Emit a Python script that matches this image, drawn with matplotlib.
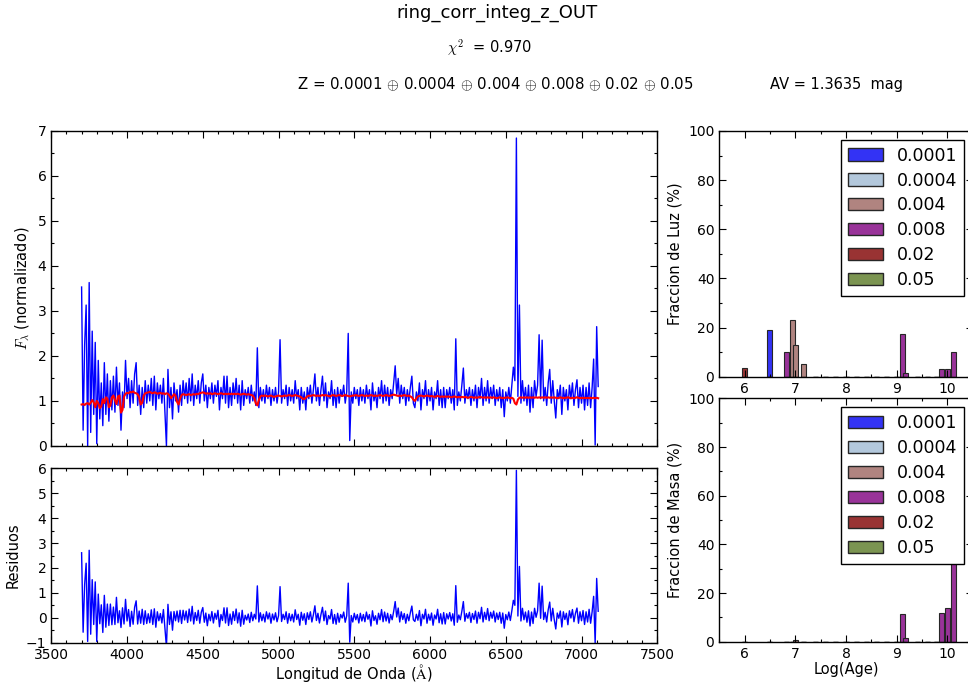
import numpy as np
import matplotlib
matplotlib.use("Agg")
import matplotlib.pyplot as plt
from matplotlib.ticker import MultipleLocator
from matplotlib.patches import Patch

plt.rcParams['font.family'] = ['DejaVu Sans']
plt.rcParams['mathtext.fontset'] = 'cm'

# --- spectrum (10 A sampling, 3700-7110 A) ---
wave = np.arange(3700, 7120, 10)

flux_obs = [
    3.53, 0.35, 2.24, 3.13, 0.00, 3.63, 0.30, 2.55, 0.70, 2.30,
    0.05, 1.90, 0.60, 1.40, 0.45, 1.85, 0.70, 1.60, 0.55, 1.45,
    0.80, 1.55, 0.75, 1.75, 0.90, 1.40, 0.35, 1.20, 0.85, 1.90,
    1.05, 1.50, 0.85, 1.45, 0.95, 1.60, 1.85, 0.90, 1.35, 0.70,
    1.30, 0.85, 1.45, 0.95, 1.35, 1.00, 1.50, 0.90, 1.55, 0.80,
    1.40, 1.05, 1.35, 0.95, 1.50, 0.75, 0.00, 1.70, 0.85, 1.30,
    0.60, 1.40, 1.00, 1.25, 0.75, 1.35, 0.90, 1.45, 1.05, 1.40,
    0.95, 1.50, 1.00, 1.60, 0.90, 1.35, 1.05, 1.45, 0.95, 1.40,
    1.60, 1.00, 1.35, 0.85, 1.30, 1.05, 1.40, 0.95, 1.35, 1.10,
    1.45, 0.80, 1.30, 1.05, 1.55, 0.95, 1.55, 0.85, 1.30, 0.90,
    1.40, 1.05, 1.50, 0.95, 1.35, 0.80, 1.45, 0.90, 1.25, 1.05,
    1.30, 0.95, 1.35, 1.00, 1.20, 0.90, 2.18, 0.85, 1.30, 1.00,
    1.25, 0.95, 1.35, 1.05, 1.30, 0.90, 1.25, 1.00, 1.30, 0.95,
    1.20, 2.36, 0.95, 1.25, 1.05, 1.35, 0.90, 1.30, 1.00, 1.25,
    0.95, 1.45, 1.05, 1.25, 0.80, 1.30, 0.95, 1.20, 0.80, 1.30,
    1.05, 1.35, 0.95, 1.25, 1.60, 1.00, 1.30, 0.90, 1.25, 1.55,
    1.00, 1.40, 0.85, 1.20, 1.05, 1.45, 0.90, 1.25, 0.85, 1.30,
    0.95, 1.25, 1.10, 1.35, 0.95, 1.20, 2.50, 0.12, 1.20, 0.95,
    1.30, 1.05, 1.25, 0.90, 1.30, 1.00, 1.25, 0.95, 1.35, 1.05,
    1.25, 0.80, 1.40, 1.00, 1.20, 0.85, 1.30, 1.05, 1.45, 0.95,
    1.35, 1.00, 1.30, 0.90, 1.25, 1.05, 1.40, 1.78, 1.15, 1.50,
    0.95, 1.35, 1.05, 1.30, 0.90, 1.25, 1.00, 1.30, 1.55, 0.95,
    0.85, 1.20, 1.00, 1.40, 0.80, 1.25, 1.05, 1.45, 0.90, 1.25,
    1.00, 1.30, 0.80, 1.20, 1.05, 1.45, 0.90, 1.25, 0.85, 1.30,
    0.85, 1.25, 1.05, 1.30, 0.95, 1.25, 0.80, 2.38, 0.90, 1.20,
    1.00, 1.35, 1.73, 0.95, 1.25, 1.05, 1.30, 0.90, 1.25, 1.00,
    1.35, 0.85, 1.30, 1.05, 1.50, 0.90, 1.30, 1.00, 1.45, 0.95,
    1.30, 1.05, 1.35, 0.90, 1.25, 1.00, 1.30, 0.85, 1.25, 0.65,
    1.20, 1.00, 1.30, 0.95, 1.35, 1.75, 1.45, 6.84, 1.10, 3.13,
    0.95, 1.45, 1.00, 1.30, 0.90, 1.35, 0.75, 1.30, 0.85, 1.45,
    1.10, 1.35, 2.47, 1.05, 2.35, 1.00, 1.30, 0.90, 1.40, 1.70,
    0.95, 1.45, 1.00, 0.62, 1.25, 1.05, 1.35, 0.70, 1.30, 1.00,
    1.25, 0.80, 1.35, 1.05, 1.40, 0.90, 1.25, 1.47, 0.85, 1.30,
    0.95, 1.35, 0.80, 1.30, 0.90, 1.40, 0.85, 1.30, 1.93, 0.02,
    2.65, 1.32,
]

flux_syn = [
    0.92, 0.93, 0.91, 0.94, 0.95, 0.92, 0.96, 1.02, 0.97, 0.86,
    1.00, 0.95, 0.84, 0.88, 1.04, 0.95, 1.08, 1.05, 0.86, 0.90,
    1.08, 1.12, 1.02, 0.93, 1.10, 1.12, 0.74, 0.80, 1.10, 1.16,
    1.18, 1.17, 1.20, 1.19, 1.21, 1.18, 1.17, 1.15, 1.08, 0.92,
    0.96, 1.12, 1.17, 1.18, 1.19, 1.20, 1.18, 1.17, 1.19, 1.18,
    1.16, 1.17, 1.18, 1.16, 1.17, 1.15, 1.17, 1.16, 1.12, 1.06,
    1.10, 1.15, 1.12, 0.98, 0.92, 1.05, 1.13, 1.15, 1.14, 1.13,
    1.14, 1.15, 1.13, 1.14, 1.15, 1.14, 1.16, 1.15, 1.17, 1.18,
    1.19, 1.18, 1.16, 1.17, 1.16, 1.17, 1.15, 1.16, 1.17, 1.16,
    1.15, 1.16, 1.17, 1.16, 1.15, 1.16, 1.15, 1.16, 1.15, 1.16,
    1.15, 1.16, 1.15, 1.16, 1.15, 1.14, 1.15, 1.16, 1.15, 1.14,
    1.15, 1.14, 1.13, 1.12, 1.06, 0.95, 0.90, 1.02, 1.10, 1.12,
    1.11, 1.12, 1.11, 1.10, 1.11, 1.12, 1.10, 1.09, 1.10, 1.11,
    1.12, 1.11, 1.10, 1.11, 1.12, 1.11, 1.12, 1.13, 1.12, 1.11,
    1.12, 1.13, 1.12, 1.11, 1.10, 1.08, 1.05, 1.04, 1.07, 1.10,
    1.12, 1.11, 1.12, 1.13, 1.12, 1.11, 1.12, 1.11, 1.12, 1.13,
    1.12, 1.13, 1.12, 1.11, 1.10, 1.12, 1.13, 1.12, 1.11, 1.12,
    1.13, 1.12, 1.11, 1.12, 1.13, 1.12, 1.11, 1.10, 1.11, 1.12,
    1.12, 1.13, 1.12, 1.11, 1.12, 1.13, 1.12, 1.11, 1.12, 1.11,
    1.12, 1.13, 1.12, 1.11, 1.12, 1.11, 1.12, 1.13, 1.12, 1.11,
    1.12, 1.13, 1.12, 1.11, 1.12, 1.13, 1.14, 1.13, 1.12, 1.11,
    1.12, 1.11, 1.12, 1.13, 1.12, 1.11, 1.12, 1.10, 1.08, 1.03,
    1.00, 1.06, 1.10, 1.11, 1.12, 1.11, 1.10, 1.11, 1.12, 1.11,
    1.10, 1.11, 1.10, 1.09, 1.10, 1.11, 1.10, 1.09, 1.10, 1.09,
    1.10, 1.09, 1.10, 1.09, 1.08, 1.09, 1.10, 1.09, 1.08, 1.09,
    1.08, 1.09, 1.08, 1.09, 1.08, 1.07, 1.08, 1.09, 1.08, 1.07,
    1.08, 1.07, 1.08, 1.09, 1.08, 1.07, 1.08, 1.07, 1.08, 1.07,
    1.08, 1.07, 1.08, 1.07, 1.06, 1.07, 1.08, 1.07, 1.06, 1.07,
    1.07, 1.08, 1.07, 1.06, 1.07, 1.05, 0.95, 0.92, 1.03, 1.07,
    1.08, 1.07, 1.08, 1.07, 1.08, 1.07, 1.08, 1.07, 1.08, 1.07,
    1.08, 1.07, 1.08, 1.07, 1.08, 1.07, 1.08, 1.07, 1.08, 1.07,
    1.08, 1.07, 1.08, 1.07, 1.06, 1.07, 1.08, 1.07, 1.06, 1.07,
    1.07, 1.08, 1.07, 1.06, 1.07, 1.06, 1.07, 1.08, 1.07, 1.06,
    1.07, 1.06, 1.07, 1.06, 1.07, 1.06, 1.07, 1.06, 1.07, 1.06,
    1.07, 1.06,
]

# --- star formation history per metallicity ---
log_age = [6.0, 6.5, 6.82, 6.94, 7.0, 7.16, 7.4, 7.6, 7.8, 8.0, 8.2, 8.4,
           8.6, 8.8, 9.0, 9.11, 9.17, 9.4, 9.6, 9.78, 9.88, 10.0, 10.11]
metals = ['0.0001', '0.0004', '0.004', '0.008', '0.02', '0.05']
colors = ['#3333f5', '#b3c8dc', '#b08480', '#993399', '#993333', '#7b9451']

light_frac = {
    '0.0001': [0, 19, 0, 0, 0, 0, 0, 0, 0, 0, 0, 0, 0, 0, 0, 0, 0, 0, 0, 0, 0, 0, 0],
    '0.0004': [0, 0, 0, 0, 0, 0, 0, 0, 0, 0, 0, 0, 0, 0, 0, 0, 0, 0, 0, 0, 0, 0, 0],
    '0.004':  [0, 0, 0, 23, 13, 5, 0, 0, 0, 0, 0, 0, 0, 0, 0, 0, 0, 0, 0, 0, 0, 0, 0],
    '0.008':  [0, 0, 10, 0, 0, 0, 0, 0, 0, 0, 0, 0, 0, 0, 0, 17.5, 1.5, 0, 0, 0, 3, 3, 10],
    '0.02':   [3.5, 0, 0, 0, 0, 0, 0, 0, 0, 0, 0, 0, 0, 0, 0, 0, 0, 0, 0, 0, 0, 0, 0],
    '0.05':   [0, 0, 0, 0, 0, 0, 0, 0, 0, 0, 0, 0, 0, 0, 0, 0, 0, 0, 0, 0, 0, 0, 0],
}
mass_frac = {
    '0.0001': [0, 0, 0, 0, 0, 0, 0, 0, 0, 0, 0, 0, 0, 0, 0, 0, 0, 0, 0, 0, 0, 0, 0],
    '0.0004': [0, 0, 0, 0, 0, 0, 0, 0, 0, 0, 0, 0, 0, 0, 0, 0, 0, 0, 0, 0, 0, 0, 0],
    '0.004':  [0, 0, 0, 0, 0.5, 0, 0, 0, 0, 0, 0, 0, 0, 0, 0, 0, 0, 0, 0, 0, 0, 0, 0],
    '0.008':  [0, 0, 0, 0, 0, 0, 0, 0, 0, 0, 0, 0, 0, 0, 0, 11.5, 1.5, 0, 0, 0, 12, 14, 60],
    '0.02':   [0, 0, 0, 0, 0, 0, 0, 0, 0, 0, 0, 0, 0, 0, 0, 0, 0, 0, 0, 0, 0, 0, 0],
    '0.05':   [0, 0, 0, 0, 0, 0, 0, 0, 0, 0, 0, 0, 0, 0, 0, 0, 0, 0, 0, 0, 0, 0, 0],
}

flux_obs = np.array(flux_obs)
flux_syn = np.array(flux_syn)
resid = flux_obs - flux_syn


def style_axis(ax, fs=10):
    ax.tick_params(which='both', direction='in', top=True, right=True, labelsize=fs)
    ax.tick_params(which='major', length=5, width=0.8)
    ax.tick_params(which='minor', length=2.5, width=0.8)
    for sp in ax.spines.values():
        sp.set_linewidth(1.0)


fig = plt.figure(figsize=(9.68, 6.85), dpi=100)

# spectrum + model
ax1 = fig.add_axes([0.053, 0.349, 0.626, 0.460])
ax1.plot(wave, flux_obs, color='b', lw=1.0)
ax1.plot(wave, flux_syn, color='r', lw=1.5)
ax1.set_xlim(3500, 7500)
ax1.set_ylim(0, 7)
ax1.xaxis.set_major_locator(MultipleLocator(500))
ax1.xaxis.set_minor_locator(MultipleLocator(100))
ax1.yaxis.set_major_locator(MultipleLocator(1))
ax1.yaxis.set_minor_locator(MultipleLocator(0.5))
ax1.set_xticklabels([])
ax1.set_ylabel(r'$F_\lambda$ (normalizado)', fontsize=10.5)
style_axis(ax1)

# residuals
ax2 = fig.add_axes([0.053, 0.0618, 0.626, 0.2545])
ax2.plot(wave, resid, color='b', lw=1.0)
ax2.set_xlim(3500, 7500)
ax2.set_ylim(-1, 6)
ax2.xaxis.set_major_locator(MultipleLocator(500))
ax2.xaxis.set_minor_locator(MultipleLocator(100))
ax2.yaxis.set_major_locator(MultipleLocator(1))
ax2.yaxis.set_minor_locator(MultipleLocator(0.5))
ax2.set_ylabel('Residuos', fontsize=10.5)
ax2.set_xlabel(r'Longitud de Onda ($\mathrm{\AA}$)', fontsize=10.5, labelpad=0)
style_axis(ax2)


def sfh_panel(ax, fracs, ylabel):
    for z, c in zip(metals, colors):
        ax.bar(log_age, fracs[z], width=0.1, color=c, edgecolor='0.15', lw=0.8)
    ax.set_xlim(5.5, 10.5)
    ax.set_ylim(0, 100)
    ax.xaxis.set_major_locator(MultipleLocator(1))
    ax.xaxis.set_minor_locator(MultipleLocator(0.5))
    ax.yaxis.set_major_locator(MultipleLocator(20))
    ax.yaxis.set_minor_locator(MultipleLocator(10))
    ax.set_ylabel(ylabel, fontsize=10.5)
    style_axis(ax)
    handles = [Patch(facecolor=c, edgecolor='0.15', label=z) for z, c in zip(metals, colors)]
    leg = ax.legend(handles=handles, loc='upper right', fontsize=12.5, fancybox=False,
                    framealpha=1.0, edgecolor='black', borderaxespad=0.5,
                    labelspacing=0.4)
    leg.get_frame().set_linewidth(1.0)


ax3 = fig.add_axes([0.743, 0.450, 0.262, 0.3588])
sfh_panel(ax3, light_frac, 'Fraccion de Luz (%)')

ax4 = fig.add_axes([0.743, 0.0632, 0.262, 0.3553])
sfh_panel(ax4, mass_frac, 'Fraccion de Masa (%)')
ax4.set_xlabel('Log(Age)', fontsize=10.5, labelpad=1)

# header
fig.text(0.513, 0.981, 'ring_corr_integ_z_OUT', ha='center', va='center', fontsize=13)
fig.text(0.506, 0.931, r'$\chi^2$  = 0.970', ha='center', va='center', fontsize=10.5)
fig.text(0.307, 0.877, r'Z = 0.0001 $\oplus$ 0.0004 $\oplus$ 0.004 $\oplus$ 0.008 '
         r'$\oplus$ 0.02 $\oplus$ 0.05', ha='left', va='center', fontsize=10.8)
fig.text(0.795, 0.877, 'AV = 1.3635  mag', ha='left', va='center', fontsize=10.5)

fig.savefig('out.png', dpi=100, facecolor='white')
